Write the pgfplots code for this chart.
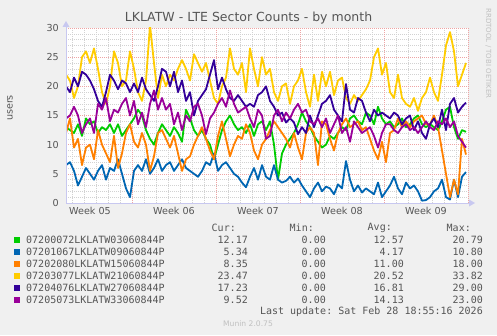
\documentclass[border=0pt]{standalone}
\usepackage{fontspec}
\setmainfont{DejaVu Sans}
\setmonofont{DejaVu Sans Mono}
\usepackage{pgfplots}
\usepackage{pgfplotstable}
\pgfplotsset{compat=1.18}

\definecolor{bgc}{HTML}{F0F0F0}
\definecolor{txt}{HTML}{555555}
\definecolor{faint}{HTML}{C0C0C0}
\definecolor{axcol}{HTML}{C8C8F0}
\definecolor{mingrid}{HTML}{D2D2D2}
\definecolor{majgrid}{HTML}{EEA4A4}
\definecolor{cg}{HTML}{00CC00}
\definecolor{cb}{HTML}{0066B3}
\definecolor{co}{HTML}{FF8000}
\definecolor{cy}{HTML}{FFCC00}
\definecolor{ci}{HTML}{330099}
\definecolor{cp}{HTML}{990099}

% hours since start of week 05; one row every 8 h
\pgfplotstableread{
h g b o y i p
36 13 6.5 12 22 20 14.5
44 12.5 7 14.5 21 19 15
52 12 5.5 9.5 18 21.5 16.5
60 13.5 3 11 20 20 15
68 11.5 4.5 6.5 25 22.5 12
76 14.5 6 9.5 26 22 13.5
84 13.5 5 10 24 21 14.5
92 14 4 7.5 26.5 19.5 12
100 12 5.5 12.5 23 17.5 17
108 13 6.5 10 19 16.5 16
116 12.5 4 8.5 17 19 18
124 13.5 6 7 20 22 14
132 12 5.5 11.5 26 21 16
140 13.5 7.5 6 24 19.5 15.5
148 11.5 5 8.5 20 21 17
156 12.5 2.5 12 21 20.5 18
164 13.5 1 13.5 26 19 15
172 14.5 5.5 10.5 23 20.5 17.5
180 16 6.5 9.5 19 19 13.5
188 15 5.5 12 17.5 21.5 15.5
196 12.5 7.5 10 21 19.5 13
204 11 5 5.5 30.5 18.5 17
212 10 6 8 24 17.5 19.3
220 12 7.5 12 18 20 16
228 13.5 5.5 12.5 22 23 18
236 12.5 6.5 11 20 22.5 16
244 11.5 7 9.5 22 20 17
252 13 5.5 11.5 21 22.5 13.5
260 12 6.5 8.5 23 19 15.5
268 10.5 7.5 5.5 24.5 21 12.5
276 16 6 7.5 23 17.5 15
284 14.5 5.5 8 21 19 14
292 12.5 5 10 25.5 15 16.5
300 11.5 4.5 11.5 24 17.5 17
308 12.5 5.5 13 22.5 18.5 15
316 11 7 11 24 19.5 11.8
324 10 6.5 9 21 22 14.5
332 7.5 8.5 7.5 18 24.5 15.5
340 10 5.5 11.5 17 19.5 17
348 12.5 6.5 14 20 21.5 18
356 14 7 11 21.5 19.5 16.5
364 15 6 8 26.5 18 19.3
372 13.5 5 10 23 17.5 17
380 12.5 4.5 11.5 22 18.5 15.5
388 13 3.5 11 24 17.5 16
396 12 2.7 13.5 19 16.5 16.5
404 13.5 4.5 12 26.5 17 14.5
412 11.5 6 9 23 16.5 13
420 13.5 4 7.5 20 18.5 16
428 14 6.5 10 25 19 15
436 12.5 4.5 11 22 20 11
444 14 4 12.5 23 17.5 11.5
452 10 6.5 14 19 16.5 15
460 4 4 13 17.5 15 16
468 8.5 3.5 12 20 15.5 14
476 10 3.8 11 20.5 13.8 15.5
484 11 4.5 9.5 17 14.5 14.5
492 12 3.5 12 20 13.8 16
500 13.5 4.2 9.5 21 11.8 17
508 15.5 3 7.5 23 13 15.5
516 14 2 12 19 12 16
524 13 1 13 16.5 15 14
532 11.5 2.5 12 22 13 13.5
540 10.5 3.5 6.5 17.5 15 14.5
548 9.5 2 14 22.5 17 13
556 10 2.8 13.5 20 17.5 14.5
564 11.5 2.5 11 22.5 18.5 12
572 11 1.5 9 18.5 16 13.5
580 12 3.2 12 21 15 15
588 13 2.5 13.5 21.5 14 12
596 12.5 7.2 14.5 18 20.4 13
604 14.5 4 13 17 16 10.5
612 15 2 13.5 18.5 15.5 14
620 14 3 14 17.5 18 13
628 13.5 1.8 12.5 18.5 17.5 12
636 15.5 2.5 13 19.5 15.5 12.5
644 15 2 11 21 14 13
652 13.5 1.5 9 25 16 11.5
660 16.5 3.5 7.5 26.5 15 9.5
668 14.5 1 10.5 22 15.5 12
676 13.5 2 7 24 15 13.5
684 14 3 12 19 14.5 13.5
692 13 4.5 12.5 18 15.5 12.5
700 13.5 2.5 14.5 22 15 12
708 14.5 1.5 13 18 13.5 13
716 13 3.5 14 17 14.5 13.5
724 13.5 2.5 13 16.5 15 12.5
732 14.5 3 14 18 12.5 13
740 15 2 14.5 15.8 14 12
748 13.5 0.4 15 18 12 13
756 13 0.5 13.5 19 11 14
764 13.5 1 13.5 21.5 13.5 13
772 13 2 15 19 14.5 12.5
780 12.5 2.5 13 17.5 13 14
788 14 4 9 22 16 13.5
796 16 1 5 27 12.5 14.5
804 16.5 0.6 1 29.3 17 13
812 13 4 4 26 18 14
820 11 1 1.5 20 15.5 11.5
828 12.5 4.5 11 22 16.5 10.5
836 12.2 5.3 8.3 24 17.2 9.5
}\sectors

\begin{document}
\begin{tikzpicture}[x=1pt,y=1pt]
\fill[bgc] (0,0) rectangle (497,335);
\useasboundingbox (0,0) rectangle (497,335);

\begin{axis}[
  at={(66pt,132pt)}, anchor=south west,
  scale only axis, width=402pt, height=175pt,
  xmin=36, xmax=840, ymin=0, ymax=30,
  axis line style={draw=none},
  axis background/.style={fill=white},
  major tick length=0pt, minor tick length=0pt,
  xtick={84,252,420,588,756},
  xticklabels={Week 05,Week 06,Week 07,Week 08,Week 09},
  minor xtick={48,72,96,120,144,192,216,240,264,288,312,360,384,408,432,456,480,528,552,576,600,624,648,696,720,744,768,792,816},
  extra x ticks={168,336,504,672,840},
  extra x tick labels={},
  extra x tick style={xmajorgrids=true, major grid style={majgrid, line width=0.6pt, dash pattern=on 1pt off 1pt}},
  xmajorgrids=false, xminorgrids=true,
  ytick={0,5,...,30},
  minor ytick={1,2,3,4,6,7,8,9,11,12,13,14,16,17,18,19,21,22,23,24,26,27,28,29},
  ymajorgrids=true, yminorgrids=true,
  major grid style={majgrid, line width=0.6pt, dash pattern=on 1pt off 1pt},
  minor grid style={mingrid, line width=0.6pt, dash pattern=on 1pt off 1pt},
  /pgf/number format/assume math mode=true,
  ticklabel style={font=\fontsize{9.6}{11}\selectfont, text=txt, inner sep=0pt},
  yticklabel style={anchor=east, xshift=-7pt},
  xticklabel style={anchor=north, yshift=-4pt},
  every axis plot/.append style={line width=1.8pt, line join=round},
]
\addplot[cg] table[x=h,y=g] {\sectors};
\addplot[cb] table[x=h,y=b] {\sectors};
\addplot[co] table[x=h,y=o] {\sectors};
\addplot[cy] table[x=h,y=y] {\sectors};
\addplot[ci] table[x=h,y=i] {\sectors};
\addplot[cp] table[x=h,y=p] {\sectors};
\end{axis}

% axis lines with arrows
\draw[axcol, line width=0.8pt] (66,132) -- (66,309);
\fill[axcol] (62.5,308) -- (69.5,308) -- (66,314) -- cycle;
\draw[axcol, line width=0.8pt] (66,132) -- (470,132);
\fill[axcol] (469,128.5) -- (469,135.5) -- (475,132) -- cycle;

% title and side texts
\node[font=\fontsize{12.5}{14}\selectfont, text=txt] at (248.5,317) {LKLATW - LTE Sector Counts - by month};
\node[font=\fontsize{9.6}{11}\selectfont, text=txt, rotate=90] at (10,227) {users};
\node[font=\fontsize{7}{8}\selectfont, text=faint, rotate=-90, anchor=west] at (488.5,330) {RRDTOOL / TOBI OETIKER};

% legend
\begin{scope}[every node/.style={font=\ttfamily\fontsize{10}{11}\selectfont, text=txt, inner sep=0pt}]
\node[anchor=east] at (236,107.3) {Cur:};
\node[anchor=east] at (314,107.3) {Min:};
\node[anchor=east] at (392,107.3) {Avg:};
\node[anchor=east] at (471,107.3) {Max:};
\foreach \c/\n/\cur/\mn/\avg/\mx [count=\r from 0] in {
  cg/07200072LKLATW03060844P/12.17/0.00/12.57/20.79,
  cb/07201067LKLATW09060844P/5.34/0.00/4.17/10.80,
  co/07202080LKLATW15060844P/8.35/0.00/11.00/18.00,
  cy/07203077LKLATW21060844P/23.47/0.00/20.52/33.82,
  ci/07204076LKLATW27060844P/17.23/0.00/16.81/29.00,
  cp/07205073LKLATW33060844P/9.52/0.00/14.13/23.00} {
  \pgfmathsetmacro{\yy}{95.3-12*\r}
  \fill[\c] (14,\yy-3) rectangle (20,\yy+3);
  \node[anchor=west] at (26,\yy) {\n};
  \node[anchor=east] at (248,\yy) {\cur};
  \node[anchor=east] at (326,\yy) {\mn};
  \node[anchor=east] at (404,\yy) {\avg};
  \node[anchor=east] at (483,\yy) {\mx};
}
\node[anchor=east] at (483,23.3) {Last update: Sat Feb 28 18:55:16 2026};
\end{scope}
\node[font=\fontsize{7.6}{9}\selectfont, text=faint] at (248,11) {Munin 2.0.75};
\end{tikzpicture}
\end{document}
